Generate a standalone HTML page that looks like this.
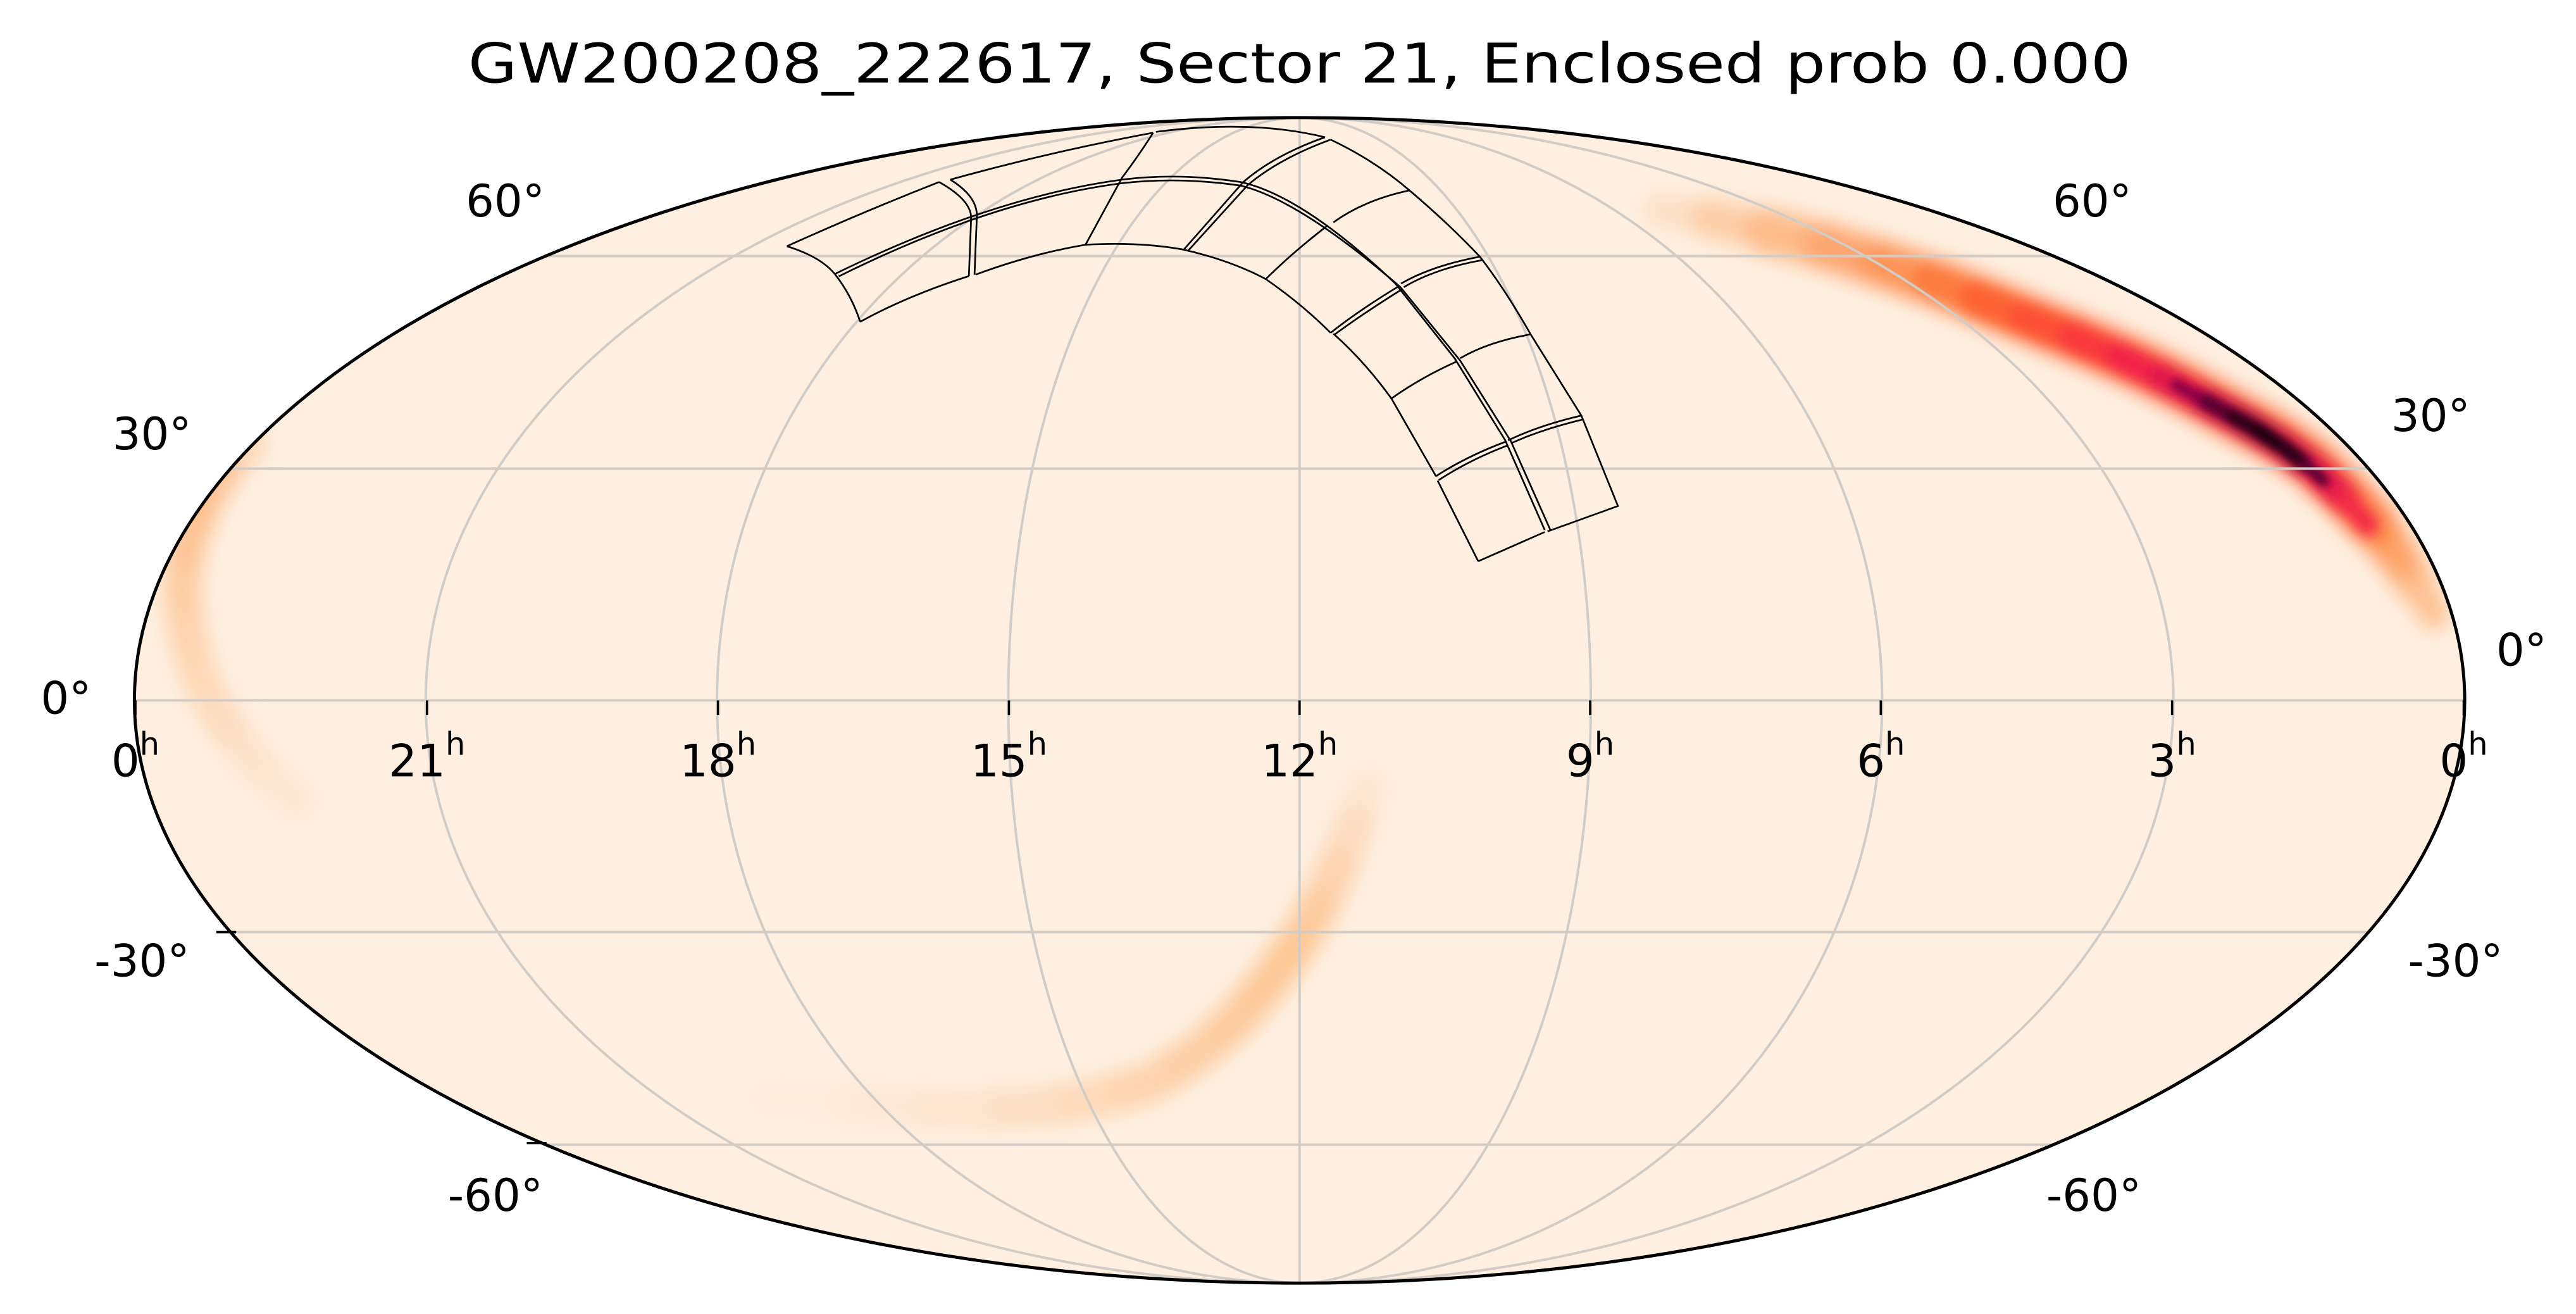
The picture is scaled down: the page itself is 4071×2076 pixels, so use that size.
<!DOCTYPE html>
<html><head><meta charset="utf-8"><style>
html,body{margin:0;padding:0;background:#fff;}
svg{display:block;}
text{font-family:"DejaVu Sans","Liberation Sans",sans-serif;fill:#000;}
</style></head><body>
<svg width="4071" height="2076" viewBox="0 0 1560 795.5" xmlns="http://www.w3.org/2000/svg">
<defs>
<clipPath id="ell"><ellipse cx="787" cy="424" rx="705.6" ry="352.8"/></clipPath>
<filter id="b8" x="-50%" y="-50%" width="200%" height="200%"><feGaussianBlur stdDeviation="6"/></filter>
<filter id="b5" x="-50%" y="-50%" width="200%" height="200%"><feGaussianBlur stdDeviation="4"/></filter>
<filter id="b3" x="-50%" y="-50%" width="200%" height="200%"><feGaussianBlur stdDeviation="2.5"/></filter>
</defs>
<text x="787" y="50" font-size="33" text-anchor="middle" textLength="1007" lengthAdjust="spacingAndGlyphs">GW200208_222617, Sector 21, Enclosed prob 0.000</text>
<g clip-path="url(#ell)">
<rect x="0" y="0" width="1560" height="796" fill="#feefe0"/>
<!-- left band -->
<g filter="url(#b8)" stroke-linecap="round" fill="none" stroke-width="22">
<line x1="150" y1="268" x2="135" y2="285" stroke="#fdd6b4"/>
<line x1="135" y1="285" x2="122" y2="305" stroke="#fdc597"/>
<line x1="122" y1="305" x2="113" y2="330" stroke="#fdc08e"/>
<line x1="113" y1="330" x2="110" y2="355" stroke="#fdc495"/>
<line x1="110" y1="355" x2="113" y2="382" stroke="#fdcda3"/>
<line x1="113" y1="382" x2="120" y2="408" stroke="#fdd3ad"/>
<line x1="120" y1="408" x2="132" y2="432" stroke="#fdd8b6"/>
<line x1="132" y1="432" x2="148" y2="455" stroke="#fddcbe"/>
<line x1="148" y1="455" x2="168" y2="475" stroke="#fde2c9"/>
<line x1="168" y1="475" x2="180" y2="485" stroke="#fde7d2"/>
</g>
<!-- bottom band -->
<g filter="url(#b8)" stroke-linecap="round" fill="none" stroke-width="24">
<line x1="828" y1="478" x2="820" y2="500" stroke="#fde6d0"/>
<line x1="820" y1="500" x2="810" y2="525" stroke="#fddcbf"/>
<line x1="810" y1="525" x2="798" y2="550" stroke="#fdd3ae"/>
<line x1="798" y1="550" x2="785" y2="572" stroke="#fdcb9e"/>
<line x1="785" y1="572" x2="768" y2="595" stroke="#fdc795"/>
<line x1="768" y1="595" x2="748" y2="618" stroke="#fdc898"/>
<line x1="748" y1="618" x2="725" y2="638" stroke="#fdcb9e"/>
<line x1="725" y1="638" x2="698" y2="655" stroke="#fdcfa5"/>
<line x1="698" y1="655" x2="665" y2="665" stroke="#fdd3ad"/>
<line x1="665" y1="665" x2="630" y2="670" stroke="#fdd9b9"/>
<line x1="630" y1="670" x2="590" y2="672" stroke="#fddfc4"/>
<line x1="590" y1="672" x2="545" y2="670" stroke="#fde4cd"/>
<line x1="545" y1="670" x2="500" y2="667" stroke="#fde8d5"/>
<line x1="500" y1="667" x2="465" y2="664" stroke="#feecdb"/>
</g>
<!-- main band halo -->
<g filter="url(#b8)" stroke-linecap="round" fill="none" stroke-width="28">
<line x1="1005" y1="127" x2="1035" y2="132" stroke="#fde0c6" stroke-width="20"/>
<line x1="1035" y1="132" x2="1070" y2="140" stroke="#fdcda6" stroke-width="24"/>
<line x1="1070" y1="140" x2="1105" y2="149" stroke="#fdbb8a"/>
<line x1="1105" y1="149" x2="1140" y2="160" stroke="#fda670"/>
<line x1="1140" y1="160" x2="1175" y2="172" stroke="#fd9458"/>
<line x1="1175" y1="172" x2="1205" y2="184" stroke="#fd8448"/>
<line x1="1205" y1="184" x2="1235" y2="196" stroke="#fd7840"/>
<line x1="1235" y1="196" x2="1265" y2="208" stroke="#fd703c"/>
<line x1="1265" y1="208" x2="1295" y2="221" stroke="#fd6c3a"/>
<line x1="1295" y1="221" x2="1325" y2="236" stroke="#fd6a3a"/>
<line x1="1325" y1="236" x2="1352" y2="251" stroke="#fd6a3a"/>
<line x1="1352" y1="251" x2="1378" y2="265" stroke="#fd6a3a"/>
<line x1="1378" y1="265" x2="1400" y2="280" stroke="#fd6a3a"/>
<line x1="1400" y1="280" x2="1420" y2="299" stroke="#fd6e3c"/>
<line x1="1420" y1="299" x2="1438" y2="318" stroke="#fd7840"/>
<line x1="1438" y1="318" x2="1452" y2="337" stroke="#fd8a4c" stroke-width="24"/>
<line x1="1452" y1="337" x2="1464" y2="355" stroke="#fda468" stroke-width="22"/>
<line x1="1464" y1="355" x2="1474" y2="372" stroke="#fdc090" stroke-width="18"/>
</g>
<!-- mid layer -->
<g filter="url(#b5)" stroke-linecap="round" fill="none" stroke-width="17">
<line x1="1165" y1="168" x2="1195" y2="180" stroke="#fd7a3e" stroke-width="13"/>
<line x1="1195" y1="180" x2="1225" y2="192" stroke="#fd6234"/>
<line x1="1225" y1="192" x2="1255" y2="204" stroke="#fc5034"/>
<line x1="1255" y1="204" x2="1283" y2="216" stroke="#f9383c"/>
<line x1="1283" y1="216" x2="1310" y2="229" stroke="#f2244a"/>
<line x1="1310" y1="229" x2="1336" y2="243" stroke="#e0144e"/>
<line x1="1336" y1="243" x2="1360" y2="256" stroke="#c00a4c"/>
<line x1="1360" y1="256" x2="1383" y2="270" stroke="#b00848"/>
<line x1="1383" y1="270" x2="1403" y2="285" stroke="#c00a4a"/>
<line x1="1403" y1="285" x2="1420" y2="302" stroke="#e0144c"/>
<line x1="1420" y1="302" x2="1434" y2="318" stroke="#f32a46" stroke-width="13"/>
</g>
<!-- core -->
<g filter="url(#b3)" stroke-linecap="round" fill="none" stroke-width="9">
<line x1="1318" y1="233" x2="1336" y2="243" stroke="#8a0444" stroke-width="7"/>
<line x1="1336" y1="243" x2="1352" y2="252" stroke="#5a0232"/>
<line x1="1352" y1="252" x2="1368" y2="261" stroke="#2e0018"/>
<line x1="1368" y1="261" x2="1383" y2="271" stroke="#1e000c"/>
<line x1="1383" y1="271" x2="1396" y2="281" stroke="#2a0012"/>
<line x1="1396" y1="281" x2="1407" y2="291" stroke="#5a0230" stroke-width="7"/>
</g>
<!-- grid -->
<g fill="none" stroke="#d2ccc6" stroke-width="1.5">
<line x1="0" y1="155" x2="1560" y2="155"/>
<line x1="0" y1="283.7" x2="1560" y2="283.7"/>
<line x1="0" y1="424" x2="1560" y2="424"/>
<line x1="0" y1="564.3" x2="1560" y2="564.3"/>
<line x1="0" y1="693" x2="1560" y2="693"/>
<line x1="787" y1="60" x2="787" y2="790"/>
<ellipse cx="787" cy="424" rx="176.4" ry="352.8"/>
<ellipse cx="787" cy="424" rx="352.8" ry="352.8"/>
<ellipse cx="787" cy="424" rx="529.2" ry="352.8"/>
</g>
</g>
<ellipse cx="787" cy="424" rx="705.6" ry="352.8" fill="none" stroke="#000" stroke-width="1.9"/>
<!-- tiles -->
<g fill="none" stroke="#000" stroke-width="2.7" transform="matrix(0.3412 0 0 0.1808 464.6 66.8)">
<path vector-effect="non-scaling-stroke" d="M35,455 Q170,340 305,240"/>
<path vector-effect="non-scaling-stroke" d="M35,455 Q95,490 120,548 Q150,620 165,708"/>
<path vector-effect="non-scaling-stroke" d="M305,240 Q362,300 362,360 L358,555"/>
<path vector-effect="non-scaling-stroke" d="M325,232 Q375,290 372,360 L368,550"/>
<path vector-effect="non-scaling-stroke" d="M325,232 Q500,140 685,75"/>
<path vector-effect="non-scaling-stroke" d="M690,72 Q860,30 990,90"/>
<path vector-effect="non-scaling-stroke" d="M1000,98 Q1080,170 1140,268 Q1210,380 1265,490 Q1310,600 1355,750 L1445,1022 L1510,1325 L1385,1410"/>
<path vector-effect="non-scaling-stroke" d="M1262,1510 L1380,1412"/>
<path vector-effect="non-scaling-stroke" d="M1262,1510 L1190,1240"/>
<path vector-effect="non-scaling-stroke" d="M1187,1225 L1108,965 Q1060,840 1005,748"/>
<path vector-effect="non-scaling-stroke" d="M165,708 Q250,620 358,555"/>
<path vector-effect="non-scaling-stroke" d="M370,550 Q470,480 565,450 Q660,440 735,465 Q820,500 885,565 Q950,650 1000,745"/>
<path vector-effect="non-scaling-stroke" d="M120,548 Q400,290 630,232 Q730,208 840,240 Q950,285 1115,580 L1220,830 L1310,1105 L1380,1405"/>
<path vector-effect="non-scaling-stroke" d="M127,556 Q400,300 630,244 Q730,222 840,252 Q945,300 1124,592 L1230,838 L1320,1108 L1390,1405"/>
<path vector-effect="non-scaling-stroke" d="M685,75 Q660,150 630,225 L565,450"/>
<path vector-effect="non-scaling-stroke" d="M990,90 Q900,150 845,240 L740,465"/>
<path vector-effect="non-scaling-stroke" d="M1000,98 Q910,160 853,250 L748,468"/>
<path vector-effect="non-scaling-stroke" d="M1140,268 Q1060,300 1005,375"/>
<path vector-effect="non-scaling-stroke" d="M995,385 Q930,480 885,565"/>
<path vector-effect="non-scaling-stroke" d="M1265,490 Q1180,520 1125,580"/>
<path vector-effect="non-scaling-stroke" d="M1268,502 Q1185,530 1130,592"/>
<path vector-effect="non-scaling-stroke" d="M1120,590 Q1050,670 1000,745"/>
<path vector-effect="non-scaling-stroke" d="M1126,600 Q1058,680 1006,752"/>
<path vector-effect="non-scaling-stroke" d="M1355,750 Q1280,775 1230,830"/>
<path vector-effect="non-scaling-stroke" d="M1225,840 Q1160,895 1108,965"/>
<path vector-effect="non-scaling-stroke" d="M1445,1022 Q1370,1055 1315,1105"/>
<path vector-effect="non-scaling-stroke" d="M1448,1035 Q1375,1068 1320,1115"/>
<path vector-effect="non-scaling-stroke" d="M1310,1110 Q1240,1160 1187,1225"/>
<path vector-effect="non-scaling-stroke" d="M1314,1122 Q1245,1172 1192,1238"/>
</g>
<!-- ticks -->
<g stroke="#000" stroke-width="1.4">
<line x1="82" y1="424" x2="82" y2="433"/>
<line x1="258.6" y1="424" x2="258.6" y2="433"/>
<line x1="434.8" y1="424" x2="434.8" y2="433"/>
<line x1="611" y1="424" x2="611" y2="433"/>
<line x1="787" y1="424" x2="787" y2="433"/>
<line x1="963" y1="424" x2="963" y2="433"/>
<line x1="1139" y1="424" x2="1139" y2="433"/>
<line x1="1315.4" y1="424" x2="1315.4" y2="433"/>
<line x1="1492" y1="424" x2="1492" y2="433"/>
<line x1="131" y1="564.3" x2="143" y2="564.3"/>
<line x1="319" y1="692" x2="331" y2="692"/>
</g>
<g font-size="27" text-anchor="middle">
<text x="82" y="470">0<tspan font-size="19" dy="-13">h</tspan></text>
<text x="258.6" y="470">21<tspan font-size="19" dy="-13">h</tspan></text>
<text x="434.8" y="470">18<tspan font-size="19" dy="-13">h</tspan></text>
<text x="611" y="470">15<tspan font-size="19" dy="-13">h</tspan></text>
<text x="787" y="470">12<tspan font-size="19" dy="-13">h</tspan></text>
<text x="963" y="470">9<tspan font-size="19" dy="-13">h</tspan></text>
<text x="1139" y="470">6<tspan font-size="19" dy="-13">h</tspan></text>
<text x="1315.4" y="470">3<tspan font-size="19" dy="-13">h</tspan></text>
<text x="1492" y="470">0<tspan font-size="19" dy="-13">h</tspan></text>
<text x="306" y="131">60°</text>
<text x="1267" y="131">60°</text>
<text x="92" y="272">30°</text>
<text x="1472" y="261">30°</text>
<text x="40" y="432">0°</text>
<text x="1527" y="403">0°</text>
<text x="86" y="591">-30°</text>
<text x="1487" y="591">-30°</text>
<text x="300" y="733">-60°</text>
<text x="1268" y="733">-60°</text>
</g>
</svg>
</body></html>
